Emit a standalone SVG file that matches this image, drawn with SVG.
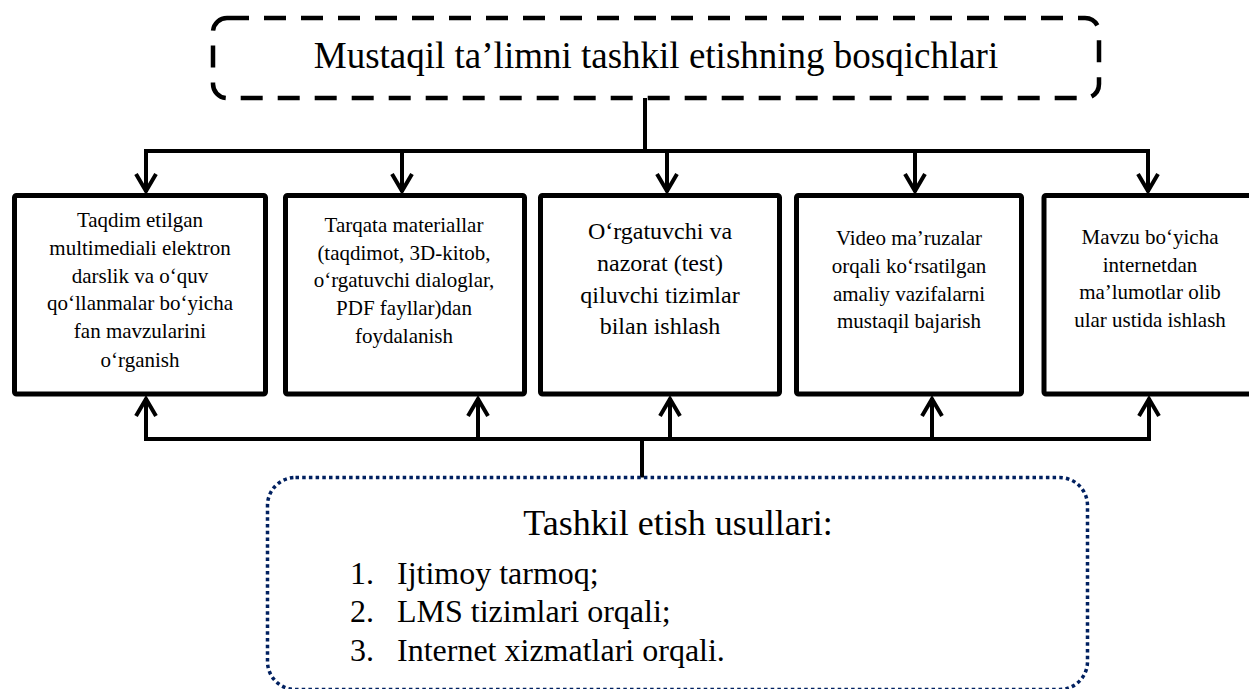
<svg xmlns="http://www.w3.org/2000/svg" width="1249" height="689" viewBox="0 0 1249 689" font-family="'Liberation Serif', 'Times New Roman', serif">
<style>
text { font-family: "Liberation Serif", "Times New Roman", serif; fill: #000; }
.box { fill: #fff; stroke: #000; stroke-width: 5; }
.t21 { font-size: 21px; text-anchor: middle; }
.t24 { font-size: 24px; text-anchor: middle; }
.conn { fill: none; stroke: #000; stroke-width: 4; }
</style>
<defs>
<marker id="arr" markerUnits="userSpaceOnUse" viewBox="-22 -14 26 28" markerWidth="26" markerHeight="28" refX="0" refY="0" orient="auto" overflow="visible">
<path d="M-18,-10 L-1,0 L-18,10" fill="none" stroke="#000" stroke-width="4"/>
</marker>
</defs>
<rect width="1249" height="689" fill="#fff"/>

<g id="title">
<rect x="213" y="18" width="886" height="80" rx="14" fill="#fff" stroke="#000" stroke-width="4.5" stroke-dasharray="22 15"/>
<text x="656" y="68" font-size="37" text-anchor="middle">Mustaqil ta’limni tashkil etishning bosqichlari</text>
</g>

<g id="connectors" class="conn">
<line x1="645" y1="98" x2="645" y2="151"/>
<polyline points="146,192 146,151 1148,151 1148,192" marker-end="url(#arr)"/>
<line x1="146" y1="151" x2="146" y2="192" marker-end="url(#arr)"/>
<line x1="402" y1="151" x2="402" y2="192" marker-end="url(#arr)"/>
<line x1="667" y1="151" x2="667" y2="192" marker-end="url(#arr)"/>
<line x1="915" y1="151" x2="915" y2="192" marker-end="url(#arr)"/>
<polyline points="146,398 146,439 1149,439 1149,398" marker-end="url(#arr)"/>
<line x1="146" y1="439" x2="146" y2="398" marker-end="url(#arr)"/>
<line x1="478" y1="439" x2="478" y2="398" marker-end="url(#arr)"/>
<line x1="670" y1="439" x2="670" y2="398" marker-end="url(#arr)"/>
<line x1="932" y1="439" x2="932" y2="398" marker-end="url(#arr)"/>
<line x1="642" y1="439" x2="642" y2="478"/>
</g>

<g id="box1">
<rect class="box" x="14.5" y="195.5" width="251" height="198.5" rx="2"/>
<text class="t21" x="140" y="227">Taqdim etilgan</text>
<text class="t21" x="140" y="255">multimediali elektron</text>
<text class="t21" x="140" y="283">darslik va o‘quv</text>
<text class="t21" x="140" y="310">qo‘llanmalar bo‘yicha</text>
<text class="t21" x="140" y="338">fan mavzularini</text>
<text class="t21" x="140" y="367">o‘rganish</text>
</g>

<g id="box2">
<rect class="box" x="285.5" y="195.5" width="239" height="198.5" rx="2"/>
<text class="t21" x="404" y="232">Tarqata materiallar</text>
<text class="t21" x="404" y="260">(taqdimot, 3D-kitob,</text>
<text class="t21" x="404" y="287">o‘rgatuvchi dialoglar,</text>
<text class="t21" x="404" y="315">PDF fayllar)dan</text>
<text class="t21" x="404" y="343">foydalanish</text>
</g>

<g id="box3">
<rect class="box" x="540.5" y="195.5" width="239" height="198.5" rx="2"/>
<text class="t24" x="660" y="239">O‘rgatuvchi va</text>
<text class="t24" x="660" y="271">nazorat (test)</text>
<text class="t24" x="660" y="303">qiluvchi tizimlar</text>
<text class="t24" x="660" y="334">bilan ishlash</text>
</g>

<g id="box4">
<rect class="box" x="796.5" y="195.5" width="225" height="198.5" rx="2"/>
<text class="t21" x="909" y="245">Video ma’ruzalar</text>
<text class="t21" x="909" y="273">orqali ko‘rsatilgan</text>
<text class="t21" x="909" y="301">amaliy vazifalarni</text>
<text class="t21" x="909" y="328">mustaqil bajarish</text>
</g>

<g id="box5">
<rect class="box" x="1044" y="195.5" width="215" height="198.5" rx="2"/>
<text class="t21" x="1150" y="244">Mavzu bo‘yicha</text>
<text class="t21" x="1150" y="272">internetdan</text>
<text class="t21" x="1150" y="299">ma’lumotlar olib</text>
<text class="t21" x="1150" y="327">ular ustida ishlash</text>
</g>

<g id="methods">
<rect x="267.5" y="477.5" width="820" height="212" rx="28" fill="#fff" stroke="#002060" stroke-width="3.5" stroke-dasharray="3.5 3.2"/>
<text x="678" y="535" font-size="36" text-anchor="middle">Tashkil etish usullari:</text>
<g font-size="32">
<text x="350" y="584">1.</text><text x="397" y="584">Ijtimoy tarmoq;</text>
<text x="350" y="622">2.</text><text x="397" y="622">LMS tizimlari orqali;</text>
<text x="350" y="661">3.</text><text x="397" y="661">Internet xizmatlari orqali.</text>
</g>
</g>
</svg>
